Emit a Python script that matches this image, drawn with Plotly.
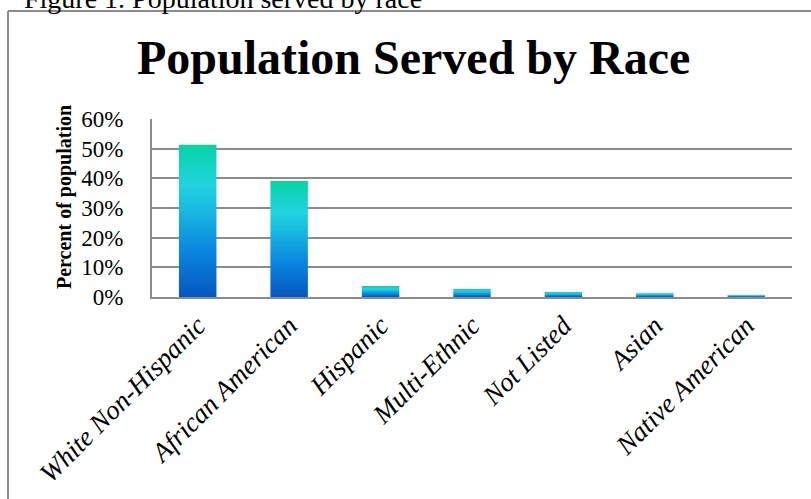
import plotly.graph_objects as go

categories = ["White Non-Hispanic", "African American", "Hispanic", "Multi-Ethnic",
              "Not Listed", "Asian", "Native American"]
values = [0.513, 0.391, 0.037, 0.027, 0.017, 0.013, 0.007]
y_ticks = [0, 0.1, 0.2, 0.3, 0.4, 0.5, 0.6]
y_ticktext = ["0%", "10%", "20%", "30%", "40%", "50%", "60%"]

W, H = 811, 499
L, R, T, B = 152, 19, 119, 202
PW, PH = W - L - R, H - T - B

def px_x(x):
    return (x - L) / PW

def px_y(y):
    return (H - B - y) / PH

FONT = "Liberation Serif, Times New Roman, serif"
bar_w = 0.41
grad = [[0.0, "#0557C0"], [0.3, "#0A86E0"], [0.55, "#17B6E0"],
        [0.73, "#22D3E0"], [1.0, "#04D4A4"]]

fig = go.Figure()
for i, v in enumerate(values):
    x0, x1 = i - bar_w / 2, i + bar_w / 2
    fig.add_trace(go.Scatter(
        x=[x0, x0, x1, x1, x0], y=[0, v, v, 0, 0],
        mode="lines", line=dict(width=0), fill="toself",
        fillgradient=dict(type="vertical", colorscale=grad),
        hoverinfo="skip", showlegend=False))

fig.update_layout(
    width=W, height=H, margin=dict(l=L, r=R, t=T, b=B),
    plot_bgcolor="white", paper_bgcolor="white",
    font=dict(family=FONT, color="black"),
    xaxis=dict(range=[-0.5, len(categories) - 0.5], tickmode="array",
               tickvals=list(range(len(categories))), ticktext=categories,
               tickangle=-45, tickfont=dict(family=FONT, size=27, style="italic"),
               showgrid=False, zeroline=False, showline=True, linecolor="#8c8c8c",
               linewidth=2, ticks=""),
    yaxis=dict(range=[0, 0.6], tickmode="array", tickvals=y_ticks, ticktext=y_ticktext,
               tickfont=dict(family=FONT, size=23), showgrid=True, gridcolor="#8c8c8c",
               gridwidth=2, zeroline=False, showline=True, linecolor="#8c8c8c",
               linewidth=2, ticks="", ticklabelstandoff=22),
    annotations=[
        dict(text="Population Served by Race", x=px_x(413), y=px_y(58), xref="paper",
             yref="paper", xanchor="center", yanchor="middle", showarrow=False,
             font=dict(family=FONT, size=48, weight="bold")),
        dict(text="Percent of population", x=px_x(64), y=px_y(197), xref="paper",
             yref="paper", xanchor="center", yanchor="middle", showarrow=False,
             textangle=-90, font=dict(family=FONT, size=20, weight="bold")),
        dict(text="Figure 1. Population served by race", x=px_x(22), y=px_y(-1),
             xref="paper", yref="paper", xanchor="left", yanchor="middle",
             showarrow=False, font=dict(family=FONT, size=28)),
    ],
    shapes=[
        dict(type="line", xref="paper", yref="paper", x0=px_x(8), x1=px_x(820),
             y0=px_y(11), y1=px_y(11), line=dict(color="#8c8c8c", width=2)),
        dict(type="line", xref="paper", yref="paper", x0=px_x(8), x1=px_x(8),
             y0=px_y(11), y1=px_y(510), line=dict(color="#8c8c8c", width=2)),
    ],
)
fig.write_html("out.html", config={"displayModeBar": False},
               post_script="document.body.style.margin='0';document.body.style.overflow='hidden';")
